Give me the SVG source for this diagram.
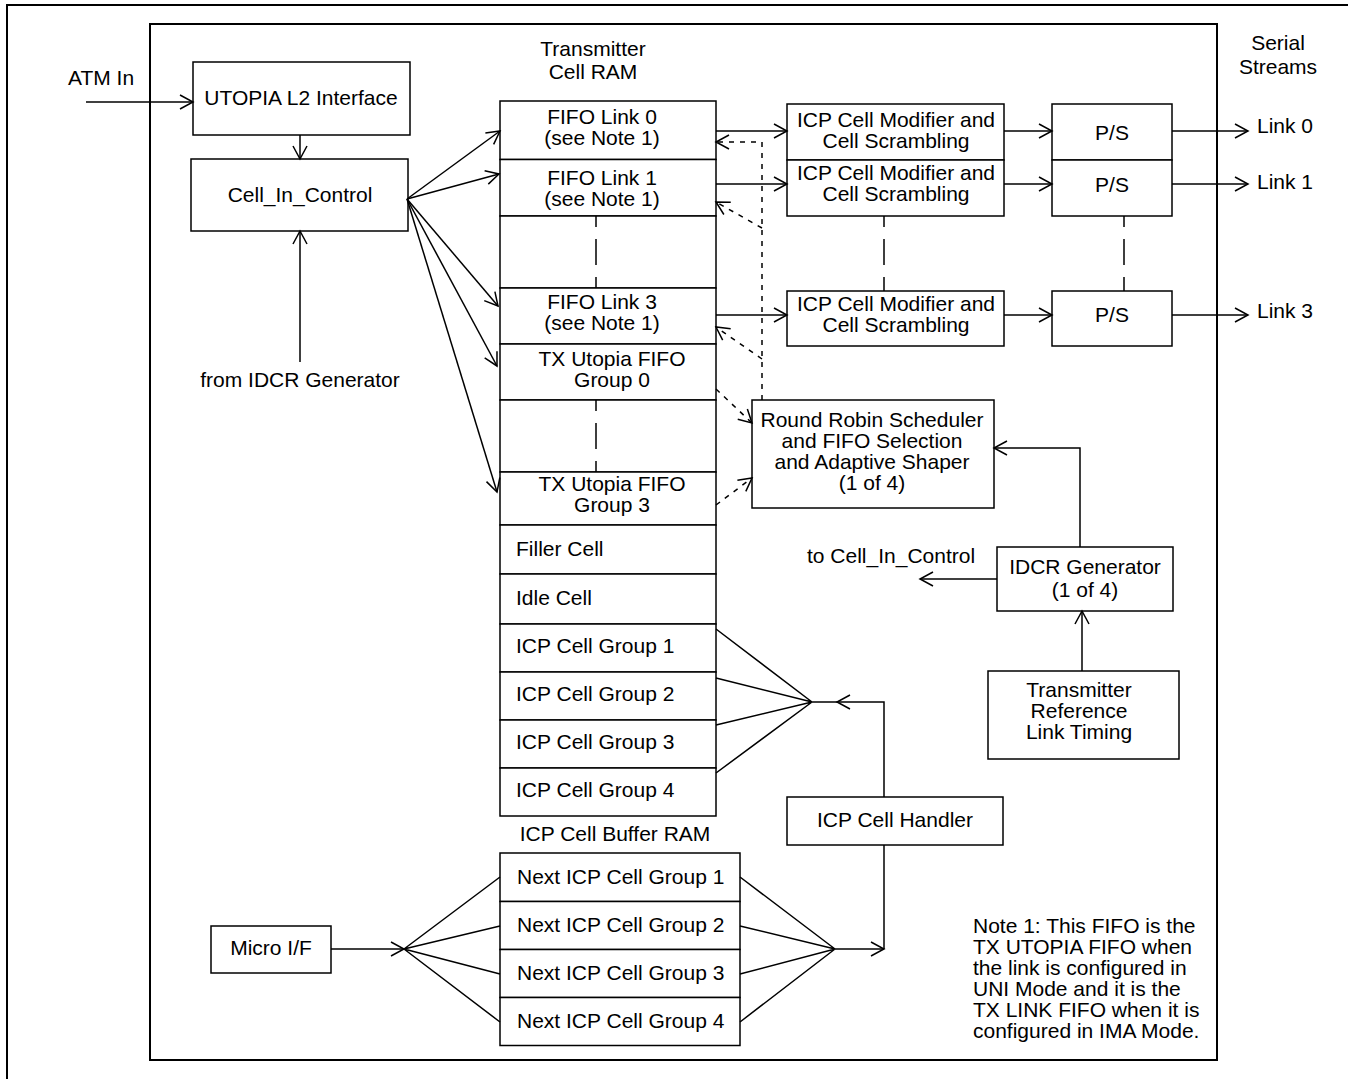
<svg xmlns="http://www.w3.org/2000/svg" width="1348" height="1079" viewBox="0 0 1348 1079">
<style>
.box{fill:#fff;stroke:#000;stroke-width:1.5}
.frame{fill:none;stroke:#000;stroke-width:2}
.t{font-family:"Liberation Sans",Arial,sans-serif;font-size:21px;fill:#000}
.c{text-anchor:middle}
.ln{fill:none;stroke:#000;stroke-width:1.5}
.arr{marker-end:url(#ah)}
.sd{stroke-dasharray:5 6}
.ld{stroke-dasharray:26 12;stroke-dashoffset:15}
</style>
<defs>
<marker id="ah" markerUnits="userSpaceOnUse" markerWidth="16" markerHeight="16" refX="13" refY="7" orient="auto" overflow="visible">
<path d="M0,0 L13,7 L0,14" fill="none" stroke="#000" stroke-width="1.5" stroke-dasharray="none"/>
</marker>
</defs>
<rect width="1348" height="1079" fill="#fff"/>
<rect class="frame" x="7" y="5" width="1400" height="1120"/>
<rect class="frame" x="150" y="24" width="1067" height="1036"/>

<g id="labels">
<text class="t" x="68" y="85">ATM In</text>
<text class="t c" x="300" y="387">from IDCR Generator</text>
<text class="t c" x="593" y="56">Transmitter</text>
<text class="t c" x="593" y="79">Cell RAM</text>
<text class="t c" x="1278" y="50">Serial</text>
<text class="t c" x="1278" y="74">Streams</text>
<text class="t" x="1257" y="133">Link 0</text>
<text class="t" x="1257" y="189">Link 1</text>
<text class="t" x="1257" y="318">Link 3</text>
<text class="t" x="807" y="563">to Cell_In_Control</text>
<text class="t c" x="615" y="841">ICP Cell Buffer RAM</text>
<text class="t" x="973" y="933">Note 1: This FIFO is the</text>
<text class="t" x="973" y="954">TX UTOPIA FIFO when</text>
<text class="t" x="973" y="975">the link is configured in</text>
<text class="t" x="973" y="996">UNI Mode and it is the</text>
<text class="t" x="973" y="1017">TX LINK FIFO when it is</text>
<text class="t" x="973" y="1038">configured in IMA Mode.</text>
</g>

<g id="utopia">
<rect class="box" x="193" y="62" width="217" height="73"/>
<text class="t c" x="301" y="105">UTOPIA L2 Interface</text>
</g>
<g id="cell-in-control">
<rect class="box" x="191" y="159" width="217" height="72"/>
<text class="t c" x="300" y="202">Cell_In_Control</text>
</g>

<g id="tx-cell-ram">
<rect class="box" x="500" y="101" width="216" height="58.5"/>
<text class="t c" x="602" y="124">FIFO Link 0</text>
<text class="t c" x="602" y="145">(see Note 1)</text>
<rect class="box" x="500" y="159.5" width="216" height="56.5"/>
<text class="t c" x="602" y="185">FIFO Link 1</text>
<text class="t c" x="602" y="206">(see Note 1)</text>
<rect class="box" x="500" y="216" width="216" height="72"/>
<rect class="box" x="500" y="288" width="216" height="56"/>
<text class="t c" x="602" y="309">FIFO Link 3</text>
<text class="t c" x="602" y="330">(see Note 1)</text>
<rect class="box" x="500" y="344" width="216" height="56"/>
<text class="t c" x="612" y="366">TX Utopia FIFO</text>
<text class="t c" x="612" y="387">Group 0</text>
<rect class="box" x="500" y="400" width="216" height="72"/>
<rect class="box" x="500" y="472" width="216" height="53"/>
<text class="t c" x="612" y="491">TX Utopia FIFO</text>
<text class="t c" x="612" y="512">Group 3</text>
<rect class="box" x="500" y="525" width="216" height="49"/>
<text class="t" x="516" y="556">Filler Cell</text>
<rect class="box" x="500" y="574" width="216" height="50"/>
<text class="t" x="516" y="605">Idle Cell</text>
<rect class="box" x="500" y="624" width="216" height="48"/>
<text class="t" x="516" y="653">ICP Cell Group 1</text>
<rect class="box" x="500" y="672" width="216" height="48"/>
<text class="t" x="516" y="701">ICP Cell Group 2</text>
<rect class="box" x="500" y="720" width="216" height="48"/>
<text class="t" x="516" y="749">ICP Cell Group 3</text>
<rect class="box" x="500" y="768" width="216" height="48"/>
<text class="t" x="516" y="797">ICP Cell Group 4</text>
<path class="ln ld" d="M596,216 V288 M596,400 V472"/>
</g>

<g id="icp-mod-0">
<rect class="box" x="787" y="104" width="217" height="56"/>
<text class="t c" x="896" y="127">ICP Cell Modifier and</text>
<text class="t c" x="896" y="148">Cell Scrambling</text>
</g>
<g id="icp-mod-1">
<rect class="box" x="787" y="160" width="217" height="56"/>
<text class="t c" x="896" y="180">ICP Cell Modifier and</text>
<text class="t c" x="896" y="201">Cell Scrambling</text>
</g>
<g id="icp-mod-3">
<rect class="box" x="787" y="291" width="217" height="55"/>
<text class="t c" x="896" y="311">ICP Cell Modifier and</text>
<text class="t c" x="896" y="332">Cell Scrambling</text>
</g>
<g id="ps-0">
<rect class="box" x="1052" y="104" width="120" height="56"/>
<text class="t c" x="1112" y="140">P/S</text>
</g>
<g id="ps-1">
<rect class="box" x="1052" y="160" width="120" height="56"/>
<text class="t c" x="1112" y="192">P/S</text>
</g>
<g id="ps-3">
<rect class="box" x="1052" y="291" width="120" height="55"/>
<text class="t c" x="1112" y="322">P/S</text>
</g>

<g id="scheduler">
<rect class="box" x="752" y="400" width="242" height="108"/>
<text class="t c" x="872" y="427">Round Robin Scheduler</text>
<text class="t c" x="872" y="448">and FIFO Selection</text>
<text class="t c" x="872" y="469">and Adaptive Shaper</text>
<text class="t c" x="872" y="490">(1 of 4)</text>
</g>
<g id="idcr">
<rect class="box" x="997" y="547" width="176" height="64"/>
<text class="t c" x="1085" y="574">IDCR Generator</text>
<text class="t c" x="1085" y="597">(1 of 4)</text>
</g>
<g id="tx-ref-timing">
<rect class="box" x="988" y="671" width="191" height="88"/>
<text class="t c" x="1079" y="697">Transmitter</text>
<text class="t c" x="1079" y="718">Reference</text>
<text class="t c" x="1079" y="739">Link Timing</text>
</g>
<g id="icp-handler">
<rect class="box" x="787" y="797" width="216" height="48"/>
<text class="t c" x="895" y="827">ICP Cell Handler</text>
</g>
<g id="micro-if">
<rect class="box" x="211" y="926" width="120" height="47"/>
<text class="t c" x="271" y="955">Micro I/F</text>
</g>
<g id="icp-buffer-ram">
<rect class="box" x="500" y="853" width="240" height="48.5"/>
<text class="t" x="517" y="884">Next ICP Cell Group 1</text>
<rect class="box" x="500" y="901.5" width="240" height="48"/>
<text class="t" x="517" y="932">Next ICP Cell Group 2</text>
<rect class="box" x="500" y="949.5" width="240" height="48"/>
<text class="t" x="517" y="980">Next ICP Cell Group 3</text>
<rect class="box" x="500" y="997.5" width="240" height="48"/>
<text class="t" x="517" y="1028">Next ICP Cell Group 4</text>
</g>

<g id="connectors">
<path class="ln arr" d="M86,102 H193"/>
<path class="ln arr" d="M300,135 V159"/>
<path class="ln arr" d="M300,362 V231"/>
<path class="ln arr" d="M407,199 L500,131"/>
<path class="ln arr" d="M407,199 L499,174"/>
<path class="ln arr" d="M407,199 L498,306"/>
<path class="ln arr" d="M407,199 L497,366"/>
<path class="ln arr" d="M407,199 L497,492"/>
<path class="ln arr" d="M716,131 H787"/>
<path class="ln arr" d="M716,184 H787"/>
<path class="ln arr" d="M716,315 H787"/>
<path class="ln arr" d="M1004,131 H1052"/>
<path class="ln arr" d="M1004,184 H1052"/>
<path class="ln arr" d="M1004,315 H1052"/>
<path class="ln arr" d="M1172,131 H1248"/>
<path class="ln arr" d="M1172,184 H1248"/>
<path class="ln arr" d="M1172,315 H1248"/>
<path class="ln ld" d="M884,216 V291 M1124,216 V291"/>
<path class="ln sd arr" d="M762,400 V142 H716"/>
<path class="ln sd arr" d="M762,228 L716,202"/>
<path class="ln sd arr" d="M762,359 L716,327"/>
<path class="ln sd arr" d="M716,389 L752,423"/>
<path class="ln sd arr" d="M716,505 L752,478"/>
<path class="ln arr" d="M1080,547 V448 H994"/>
<path class="ln arr" d="M997,579 H920"/>
<path class="ln arr" d="M1082,671 V611"/>
<path class="ln" d="M716,629 L812,702 M716,678 L812,702 M716,725 L812,702 M716,773 L812,702 M812,702 H837"/>
<path class="ln arr" d="M884,797 V702 H837"/>
<path class="ln arr" d="M331,949 H404"/>
<path class="ln" d="M404,949 L500,877 M404,949 L500,926 M404,949 L500,974 M404,949 L500,1022"/>
<path class="ln" d="M740,877 L835,949 M740,926 L835,949 M740,974 L835,949 M740,1022 L835,949"/>
<path class="ln arr" d="M835,949 H884"/>
<path class="ln" d="M884,845 V949"/>
</g>
</svg>
